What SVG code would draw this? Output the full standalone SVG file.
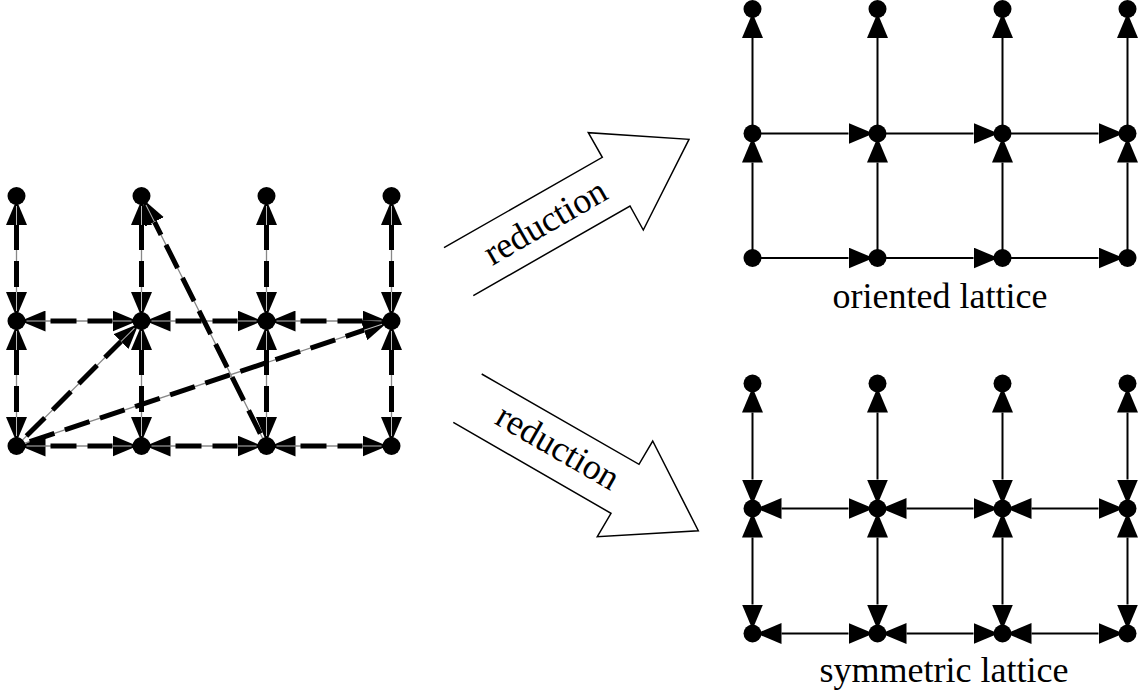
<svg xmlns="http://www.w3.org/2000/svg" width="1141" height="693" viewBox="0 0 1141 693">
<style>
.g{stroke:#888;stroke-width:1.3;fill:none}
.d{stroke:#000;stroke-width:5;stroke-dasharray:26 11;stroke-dashoffset:32;fill:none;marker-end:url(#ahd)}
.db{marker-start:url(#ahd)}
.s{stroke:#000;stroke-width:2;fill:none;marker-end:url(#ah)}
.sb{marker-start:url(#ah)}
.n{fill:#000}
.big{fill:#fff;stroke:#000;stroke-width:1.5;stroke-linejoin:miter}
.t{font-family:"Liberation Serif","Times New Roman",serif;font-size:36px;fill:#000}
</style>
<defs>
<marker id="ah" viewBox="0 0 25 21" refX="0" refY="10.5" markerWidth="25" markerHeight="21" markerUnits="userSpaceOnUse" orient="auto-start-reverse"><path d="M0,0 L25,10.5 L0,21 z" fill="#000"/></marker>
<marker id="ahd" viewBox="0 0 25 21" refX="0" refY="10.5" markerWidth="25" markerHeight="21" markerUnits="userSpaceOnUse" orient="auto-start-reverse"><path d="M0,0 L25,10.5 L0,21 z" fill="#000"/><path d="M0,10.5 L19,10.5" stroke="#bbb" stroke-width="1"/></marker>
</defs>
<rect width="1141" height="693" fill="#fff"/>

<g id="connectors">
<g id="left-edges">
<path class="g" d="M16.5,292V225 M141.5,292V225 M266.5,292V225 M391.5,292V225 M16.5,417V350 M141.5,417V350 M266.5,417V350 M391.5,417V350 M45.5,321H112.5 M170.5,321H237.5 M295.5,321H362.5 M45.5,446H112.5 M170.5,446H237.5 M295.5,446H362.5 M22.9,439.6L121,341.5 M25,443.2L364,330.2 M262.5,438L154.5,221.9"/>
<path class="d db" d="M16.5,292V225"/>
<path class="d db" d="M141.5,292V225"/>
<path class="d db" d="M266.5,292V225"/>
<path class="d db" d="M391.5,292V225"/>
<path class="d db" d="M16.5,417V350"/>
<path class="d db" d="M141.5,417V350"/>
<path class="d db" d="M266.5,417V350"/>
<path class="d db" d="M391.5,417V350"/>
<path class="d db" d="M45.5,321H112.5"/>
<path class="d db" d="M170.5,321H237.5"/>
<path class="d db" d="M295.5,321H362.5"/>
<path class="d db" d="M45.5,446H112.5"/>
<path class="d db" d="M170.5,446H237.5"/>
<path class="d db" d="M295.5,446H362.5"/>
<path class="d" d="M22.9,439.6L121,341.5"/>
<path class="d" d="M25,443.2L364,330.2"/>
<path class="d" d="M262.5,438L154.5,221.9"/>
</g>
<g id="oriented-edges">
<path class="s" d="M752.5,258V162.5"/>
<path class="s" d="M877.5,258V162.5"/>
<path class="s" d="M1002.5,258V162.5"/>
<path class="s" d="M1127.5,258V162.5"/>
<path class="s" d="M752.5,133.5V38"/>
<path class="s" d="M877.5,133.5V38"/>
<path class="s" d="M1002.5,133.5V38"/>
<path class="s" d="M1127.5,133.5V38"/>
<path class="s" d="M752.5,133.5H848.5"/>
<path class="s" d="M877.5,133.5H973.5"/>
<path class="s" d="M1002.5,133.5H1098.5"/>
<path class="s" d="M752.5,258H848.5"/>
<path class="s" d="M877.5,258H973.5"/>
<path class="s" d="M1002.5,258H1098.5"/>
</g>
<g id="symmetric-edges">
<path class="s sb" d="M752.5,479.5V412.5"/>
<path class="s sb" d="M877.5,479.5V412.5"/>
<path class="s sb" d="M1002.5,479.5V412.5"/>
<path class="s sb" d="M1127.5,479.5V412.5"/>
<path class="s sb" d="M752.5,604.5V537.5"/>
<path class="s sb" d="M877.5,604.5V537.5"/>
<path class="s sb" d="M1002.5,604.5V537.5"/>
<path class="s sb" d="M1127.5,604.5V537.5"/>
<path class="s sb" d="M781.5,508.5H848.5"/>
<path class="s sb" d="M906.5,508.5H973.5"/>
<path class="s sb" d="M1031.5,508.5H1098.5"/>
<path class="s sb" d="M781.5,633.5H848.5"/>
<path class="s sb" d="M906.5,633.5H973.5"/>
<path class="s sb" d="M1031.5,633.5H1098.5"/>
</g>
</g>

<g id="left-nodes">
<g id="L00"><circle class="n" cx="16.5" cy="196" r="9"/></g>
<g id="L01"><circle class="n" cx="141.5" cy="196" r="9"/></g>
<g id="L02"><circle class="n" cx="266.5" cy="196" r="9"/></g>
<g id="L03"><circle class="n" cx="391.5" cy="196" r="9"/></g>
<g id="L10"><circle class="n" cx="16.5" cy="321" r="9"/></g>
<g id="L11"><circle class="n" cx="141.5" cy="321" r="9"/></g>
<g id="L12"><circle class="n" cx="266.5" cy="321" r="9"/></g>
<g id="L13"><circle class="n" cx="391.5" cy="321" r="9"/></g>
<g id="L20"><circle class="n" cx="16.5" cy="446" r="9"/></g>
<g id="L21"><circle class="n" cx="141.5" cy="446" r="9"/></g>
<g id="L22"><circle class="n" cx="266.5" cy="446" r="9"/></g>
<g id="L23"><circle class="n" cx="391.5" cy="446" r="9"/></g>
</g>

<g id="oriented-nodes">
<g id="O00"><circle class="n" cx="752.5" cy="9" r="9"/></g>
<g id="O01"><circle class="n" cx="877.5" cy="9" r="9"/></g>
<g id="O02"><circle class="n" cx="1002.5" cy="9" r="9"/></g>
<g id="O03"><circle class="n" cx="1127.5" cy="9" r="9"/></g>
<g id="O10"><circle class="n" cx="752.5" cy="133.5" r="9"/></g>
<g id="O11"><circle class="n" cx="877.5" cy="133.5" r="9"/></g>
<g id="O12"><circle class="n" cx="1002.5" cy="133.5" r="9"/></g>
<g id="O13"><circle class="n" cx="1127.5" cy="133.5" r="9"/></g>
<g id="O20"><circle class="n" cx="752.5" cy="258" r="9"/></g>
<g id="O21"><circle class="n" cx="877.5" cy="258" r="9"/></g>
<g id="O22"><circle class="n" cx="1002.5" cy="258" r="9"/></g>
<g id="O23"><circle class="n" cx="1127.5" cy="258" r="9"/></g>
</g>

<g id="symmetric-nodes">
<g id="S00"><circle class="n" cx="752.5" cy="383.5" r="9"/></g>
<g id="S01"><circle class="n" cx="877.5" cy="383.5" r="9"/></g>
<g id="S02"><circle class="n" cx="1002.5" cy="383.5" r="9"/></g>
<g id="S03"><circle class="n" cx="1127.5" cy="383.5" r="9"/></g>
<g id="S10"><circle class="n" cx="752.5" cy="508.5" r="9"/></g>
<g id="S11"><circle class="n" cx="877.5" cy="508.5" r="9"/></g>
<g id="S12"><circle class="n" cx="1002.5" cy="508.5" r="9"/></g>
<g id="S13"><circle class="n" cx="1127.5" cy="508.5" r="9"/></g>
<g id="S20"><circle class="n" cx="752.5" cy="633.5" r="9"/></g>
<g id="S21"><circle class="n" cx="877.5" cy="633.5" r="9"/></g>
<g id="S22"><circle class="n" cx="1002.5" cy="633.5" r="9"/></g>
<g id="S23"><circle class="n" cx="1127.5" cy="633.5" r="9"/></g>
</g>

<g id="reduction-up">
<polyline class="big" points="444,247.7 602.3,157.3 588.3,132.7 689,139.3 643.3,230 630,206 473.3,295.7"/>
<text class="t" text-anchor="middle" transform="translate(551,232) rotate(-30)">reduction</text>
</g>
<g id="reduction-down">
<polyline class="big" points="481.7,374 639,464.3 652.7,441 698.3,530.7 597.3,536.7 611,513.3 453.3,422.3"/>
<text class="t" text-anchor="middle" transform="translate(552,457) rotate(30)">reduction</text>
</g>

<g id="labels">
<text class="t" x="940" y="308" text-anchor="middle">oriented lattice</text>
<text class="t" x="944" y="682" text-anchor="middle">symmetric lattice</text>
</g>
</svg>
